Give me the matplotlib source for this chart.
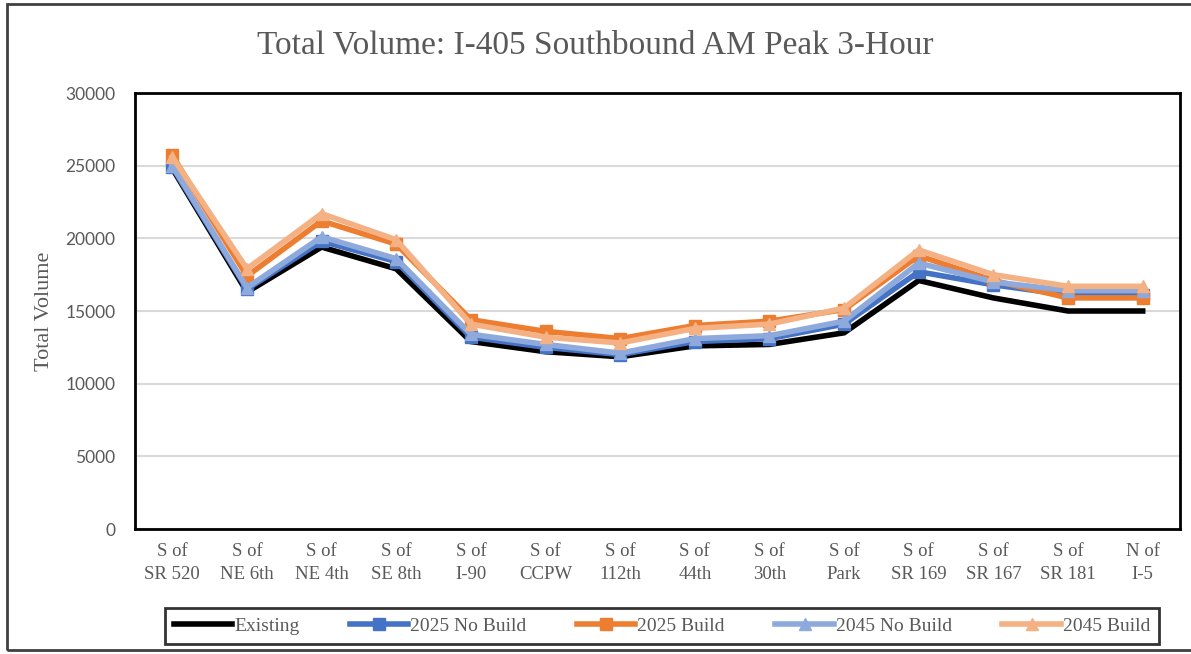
import matplotlib
matplotlib.use("Agg")
import matplotlib.pyplot as plt
from matplotlib.patches import Rectangle

# locations along I-405 southbound
locations = ["S of\nSR 520", "S of\nNE 6th", "S of\nNE 4th", "S of\nSE 8th", "S of\nI-90",
             "S of\nCCPW", "S of\n112th", "S of\n44th", "S of\n30th", "S of\nPark",
             "S of\nSR 169", "S of\nSR 167", "S of\nSR 181", "N of\nI-5"]

existing = [24800, 16300, 19400, 17900, 12900, 12200, 11850, 12600, 12700, 13500,
            17100, 15900, 15000, 15000]
nobuild_2025 = [24900, 16500, 19800, 18400, 13200, 12500, 12000, 12900, 13100, 14100,
                17700, 16800, 16100, 16100]
build_2025 = [25700, 17400, 21200, 19600, 14400, 13600, 13100, 14000, 14300, 15100,
              18800, 17100, 15900, 15900]
nobuild_2045 = [25000, 16600, 20100, 18600, 13400, 12700, 12100, 13100, 13300, 14300,
                18300, 17000, 16400, 16400]
build_2045 = [25600, 17900, 21700, 19900, 14100, 13200, 12800, 13800, 14100, 15200,
              19200, 17500, 16700, 16700]

y_ticks = [0, 5000, 10000, 15000, 20000, 25000, 30000]

serif = ["Liberation Serif", "DejaVu Serif"]
gray = "#595959"

fig = plt.figure(figsize=(11.91, 6.54), dpi=100)
ax = fig.add_axes([135 / 1191, 1 - 529 / 654, (1180 - 135) / 1191, (529 - 93) / 654])

x = list(range(len(locations)))
series = [
    ("Existing", existing, "#000000", None),
    ("2025 No Build", nobuild_2025, "#4472C4", "s"),
    ("2025 Build", build_2025, "#ED7D31", "s"),
    ("2045 No Build", nobuild_2045, "#8EA9DB", "^"),
    ("2045 Build", build_2045, "#F4B183", "^"),
]
for name, vals, col, mk in series:
    ax.plot(x, vals, color=col, lw=4, marker=mk, ms=9, label=name,
            solid_joinstyle="miter")

ax.set_xlim(-0.5, len(locations) - 0.5)
ax.set_ylim(0, 30000)
ax.set_yticks(y_ticks)
ax.set_yticklabels([str(v) for v in y_ticks], fontsize=12.5, color=gray,
                   family=["Lato", "DejaVu Sans"])
ax.set_xticks(x)
ax.set_xticklabels(locations, fontsize=13.5, color=gray, family=serif, linespacing=1.5)
ax.tick_params(length=0, pad=14)
ax.tick_params(axis="x", pad=10)
ax.grid(axis="y", color="#d9d9d9", lw=1.5)
ax.set_axisbelow(True)
for s in ax.spines.values():
    s.set_linewidth(2)
    s.set_color("#000000")

ax.set_ylabel("Total Volume", fontsize=16, color=gray, family=serif, labelpad=8)
fig.text(0.5, 1 - 45 / 654, "Total Volume: I-405 Southbound AM Peak 3-Hour",
         ha="center", va="center", fontsize=24, color=gray, family=serif)

leg = fig.legend(loc="center", bbox_to_anchor=(662 / 1191, 1 - 626 / 654), ncol=5,
                 frameon=True, fancybox=False, edgecolor="#000000",
                 prop={"family": serif, "size": 14}, handlelength=3.0,
                 columnspacing=2.6, handletextpad=0.1, borderpad=0.45)
leg.get_frame().set_linewidth(2)
for t in leg.get_texts():
    t.set_color(gray)

# outer chart border
fig.patches.append(Rectangle((7 / 1191, 4 / 654), 1.2, 1 - 8 / 654,
                             transform=fig.transFigure, fill=False,
                             edgecolor="#404040", lw=2))

fig.savefig("out.png", dpi=100)
